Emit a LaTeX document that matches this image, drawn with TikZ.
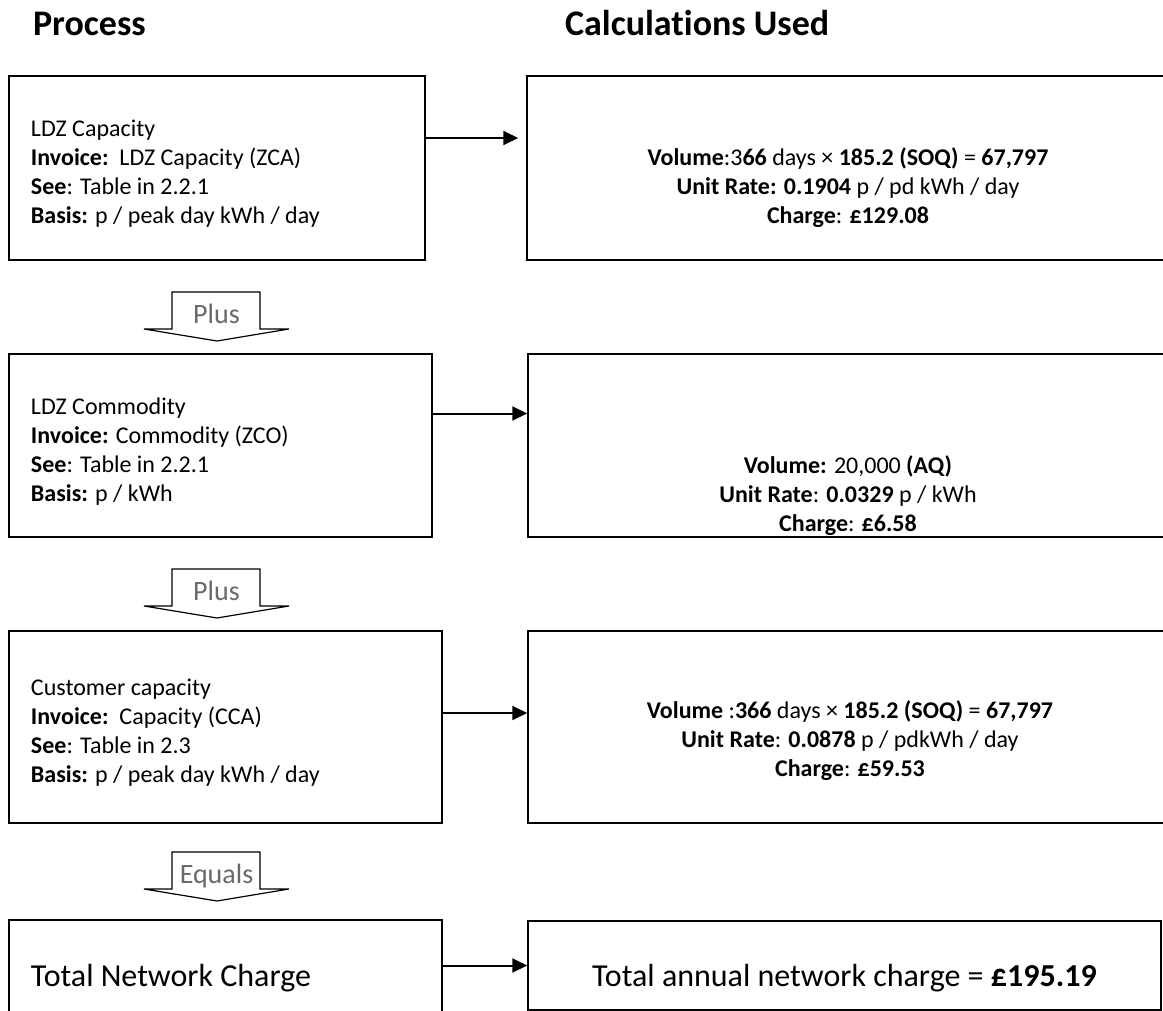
\documentclass[tikz,border=0pt]{standalone}
\usepackage{fontspec}
\setmainfont{Carlito}[Ligatures=NoCommon]
\usetikzlibrary{arrows.meta}
\definecolor{opgray}{RGB}{105,105,105}

\begin{document}
\begin{tikzpicture}[x=0.5pt,y=-0.5pt]
	\tikzstyle{procbox}=[draw,line width=0.75pt,align=flush left,inner xsep=11pt,font=\fontsize{12}{14.5}\selectfont]
	\tikzstyle{calcbox}=[draw,line width=0.75pt]
	\tikzstyle{calctext}=[align=center,font=\fontsize{12}{14.5}\selectfont]
	\tikzstyle{heading}=[anchor=base west,font=\fontsize{18}{22}\selectfont\bfseries]
	\tikzstyle{flow}=[line width=1pt,-{Triangle[length=7.5pt,width=7pt]}]
	\tikzstyle{blockarrow}=[draw,line width=0.6pt,fill=white]
	\tikzstyle{opword}=[anchor=base,text=opgray,font=\fontsize{14}{17}\selectfont]

	\clip (0,0) rectangle (1163,1011);

	\node[heading] (hproc) at (26,36) {Process};
	\node[heading] (hcalc) at (558,36) {Calculations Used};

	\node[procbox,minimum width=208pt,minimum height=92pt,text width=186pt] (proc1) at (217,168)
		{\rule{0pt}{14pt}LDZ Capacity\\ \textbf{Invoice:}\ \ LDZ Capacity (ZCA)\\ \textbf{See}: Table in 2.2.1\\ \textbf{Basis:} p / peak day kWh / day};
	\node[calcbox,minimum width=321pt,minimum height=92pt] (calc1) at (848,168) {};
	\node[calctext] (calc1txt) at (848,188)
		{\textbf{Volume}:3\textbf{66} days × \textbf{185.2 (SOQ)} = \textbf{67,797}\\ \textbf{Unit Rate: 0.1904} p / pd kWh / day\\ \textbf{Charge}: \textbf{£129.08}};

	\node[procbox,minimum width=211.5pt,minimum height=91.5pt,text width=189.5pt] (proc2) at (220.5,445.5)
		{\rule{0pt}{14pt}LDZ Commodity\\ \textbf{Invoice:} Commodity (ZCO)\\ \textbf{See}: Table in 2.2.1\\ \textbf{Basis:} p / kWh};
	\node[calcbox,minimum width=320.5pt,minimum height=91.5pt] (calc2) at (848.5,445.5) {};
	\node[calctext] (calc2txt) at (848,496)
		{\textbf{Volume:} 20,000 \textbf{(AQ)}\\ \textbf{Unit Rate}: \textbf{0.0329} p / kWh\\ \textbf{Charge}: \textbf{£6.58}};

	\node[procbox,minimum width=216.5pt,minimum height=96pt,text width=194.5pt] (proc3) at (225.5,727)
		{\rule{0pt}{14pt}Customer capacity\\ \textbf{Invoice:}\ \ Capacity (CCA)\\ \textbf{See}: Table in 2.3\\ \textbf{Basis:} p / peak day kWh / day};
	\node[calcbox,minimum width=320.5pt,minimum height=96pt] (calc3) at (848.5,727) {};
	\node[calctext] (calc3txt) at (850,741)
		{\textbf{Volume} :\textbf{366} days × \textbf{185.2 (SOQ)} = \textbf{67,797}\\ \textbf{Unit Rate}: \textbf{0.0878} p / pdkWh / day\\ \textbf{Charge}: \textbf{£59.53}};

	\node[procbox,minimum width=216.5pt,minimum height=58pt,text width=194.5pt,font=\fontsize{16}{19}\selectfont] (proc4) at (225.5,978)
		{Total Network Charge};
	\node[calcbox,minimum width=316.5pt,minimum height=44.5pt] (calc4) at (844.5,965.5) {};
	\node[calctext,font=\fontsize{16}{19}\selectfont] (calc4txt) at (844.5,978)
		{Total annual network charge = \textbf{£195.19}};

	\draw[flow,shorten >=4pt] ([yshift=15pt]proc1.east) -- ([yshift=15pt]calc1.west);
	\draw[flow] ([yshift=16pt]proc2.east) -- ([yshift=16pt]calc2.west);
	\draw[flow] ([xshift=-1pt,yshift=7pt]proc3.east) -- ([yshift=7pt]calc3.west);
	\draw[flow] (proc4.east |- calc4.west) -- (calc4.west);

	\foreach \ytop/\word [count=\i] in {292/Plus,569/Plus,852/Equals}{
		\draw[blockarrow] (172,\ytop) -- (260,\ytop) -- (260,{\ytop+37}) -- (289,{\ytop+37}) -- (217,{\ytop+49}) -- (144,{\ytop+37}) -- (172,{\ytop+37}) -- cycle;
		\node[opword] (op\i) at (216.5,{\ytop+31}) {\word};
	}
\end{tikzpicture}
\end{document}
